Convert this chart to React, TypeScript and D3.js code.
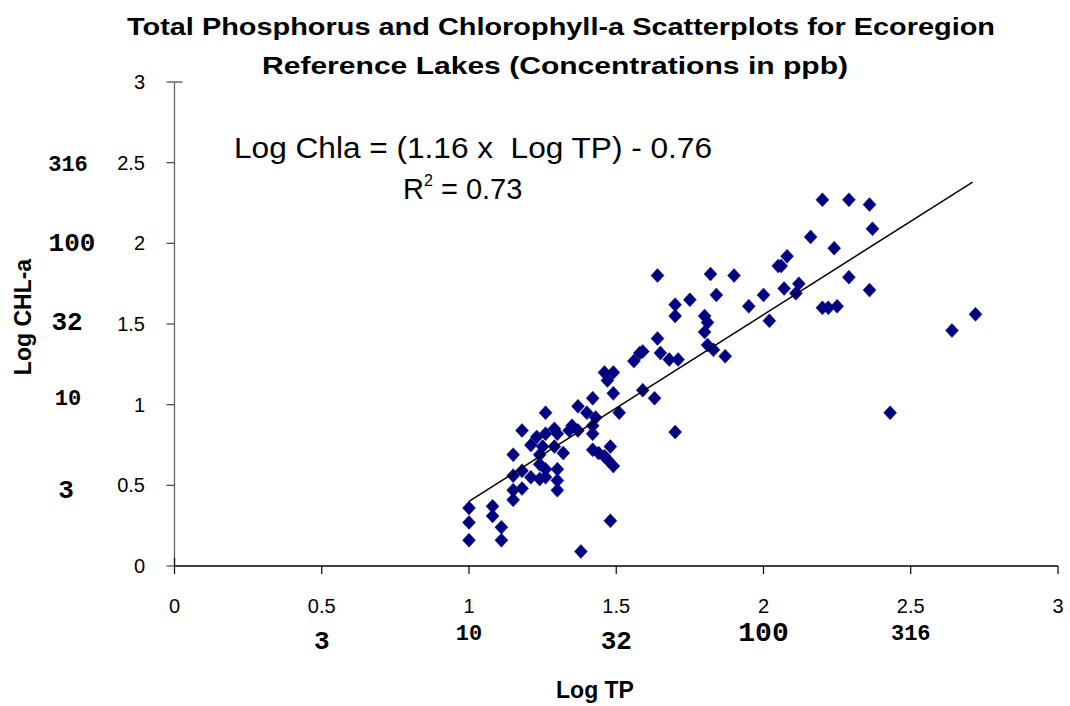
import React from "react";
import * as d3 from "d3";

// log TP / log Chl-a pairs
const logTP = [
  1.0, 1.0, 1.0, 1.08, 1.08, 1.11, 1.11, 1.15, 1.15, 1.15, 1.15, 1.18, 1.18, 1.18,
  1.21, 1.21, 1.23, 1.24, 1.24, 1.24, 1.25, 1.26, 1.26, 1.26, 1.26, 1.29, 1.29, 1.3,
  1.3, 1.3, 1.3, 1.32, 1.34, 1.35, 1.37, 1.37, 1.38, 1.4, 1.42, 1.42, 1.42, 1.43,
  1.42, 1.44, 1.46, 1.48, 1.47, 1.49, 1.46, 1.49, 1.47, 1.48, 1.49, 1.51, 1.56,
  1.59, 1.58, 1.59, 1.63, 1.64, 1.64, 1.65, 1.68, 1.71, 1.7, 1.7, 1.7, 1.75, 1.8,
  1.81, 1.8, 1.82, 1.81, 1.83, 1.84, 1.87, 1.9, 1.95, 2.0, 2.02, 2.05, 2.08, 2.07,
  2.06, 2.12, 2.11, 2.16, 2.2, 2.2, 2.22, 2.24, 2.25, 2.29, 2.29, 2.36, 2.37, 2.36,
  2.43, 2.64, 2.72,
];
const logChla = [
  0.36, 0.27, 0.16, 0.37, 0.31, 0.24, 0.16, 0.69, 0.56, 0.47, 0.41, 0.59, 0.48, 0.84,
  0.75, 0.55, 0.8, 0.63, 0.54, 0.69, 0.74, 0.95, 0.82, 0.6, 0.55, 0.74, 0.85, 0.82,
  0.6, 0.53, 0.47, 0.7, 0.84, 0.87, 0.84, 0.99, 0.09, 0.95, 1.04, 0.87, 0.82, 0.92,
  0.72, 0.7, 0.68, 0.74, 0.66, 0.62, 1.2, 1.2, 1.15, 0.28, 1.07, 0.95, 1.27,
  1.33, 1.32, 1.09, 1.04, 1.41, 1.8, 1.32, 1.28, 1.28, 1.62, 1.55, 0.83, 1.65, 1.55,
  1.51, 1.45, 1.81, 1.37, 1.34, 1.68, 1.3, 1.8, 1.61, 1.68, 1.52, 1.86, 1.92, 1.72,
  1.86, 1.75, 1.69, 2.04, 2.27, 1.6, 1.6, 1.97, 1.61, 2.27, 1.79, 2.24, 2.09, 1.71,
  0.95, 1.46, 1.56,
];

// regression line end points (Log Chla = 1.16 Log TP - 0.76)
const trendX = [1.0, 2.71];
const trendY = [0.4, 2.38];

const axisTicks = [0, 0.5, 1, 1.5, 2, 2.5, 3];
const concLabels = ["3", "10", "32", "100", "316"];
// where each ppb label sits on the log axes (hand placed in the original)
const concY = [0.47, 1.05, 1.51, 2.0, 2.5];
const concX = [0.5, 1.0, 1.5, 2.0, 2.5];

export default function App() {
  const x = d3.scaleLinear().domain([0, 3]).range([174.5, 1058]);
  const y = d3.scaleLinear().domain([0, 3]).range([566, 82]);
  const diamond = "M0,-7L6.5,0L0,7L-6.5,0Z";
  const line = d3.line<number>().x((d) => x(trendX[d])).y((d) => y(trendY[d]));

  const ySizes = [26, 22, 26, 26, 22];
  const yLeft = [66, 68, 67, 72, 68];
  const xSizes = [26, 22, 26, 28, 22];
  const xBase = [649, 640, 649, 641, 640];

  return (
    <svg width={1070} height={706} style={{ display: "block", position: "absolute", left: 0, top: 0 }}>
      <rect width={1070} height={706} fill="#fff" />
      <g fontFamily="Liberation Sans, Arial, sans-serif" fontWeight="bold" fontSize={23} textAnchor="middle">
        <text x={561} y={35} textLength={868} lengthAdjust="spacingAndGlyphs">
          Total Phosphorus and Chlorophyll-a Scatterplots for Ecoregion
        </text>
        <text x={555} y={74} textLength={586} lengthAdjust="spacingAndGlyphs">
          Reference Lakes (Concentrations in ppb)
        </text>
      </g>

      {/* axes */}
      <line x1={x(0)} x2={x(0)} y1={y(3)} y2={y(0)} stroke="#666" strokeWidth={1.3} />
      <line x1={x(0)} x2={x(3)} y1={y(0)} y2={y(0)} stroke="#000" strokeWidth={1.3} />
      {axisTicks.map((t) => (
        <g key={"yt" + t}>
          <line x1={x(0) - 8} x2={x(0) + (t === 3 ? 8 : 0)} y1={y(t)} y2={y(t)} stroke="#444" strokeWidth={1.2} />
          <text x={145} y={y(t) + 7} textAnchor="end" fontFamily="Liberation Sans, Arial, sans-serif" fontSize={20}>
            {t}
          </text>
        </g>
      ))}
      {axisTicks.map((t) => (
        <g key={"xt" + t}>
          <line x1={x(t)} x2={x(t)} y1={y(0) + 8} y2={y(0) - (t === 0 ? 8 : 0)} stroke="#000" strokeWidth={1.2} />
          <text x={x(t)} y={613} textAnchor="middle" fontFamily="Liberation Sans, Arial, sans-serif" fontSize={20}>
            {t}
          </text>
        </g>
      ))}

      {/* concentration labels */}
      <g fontFamily="Liberation Mono, Courier New, monospace" fontWeight="bold" textAnchor="middle">
        {concLabels.map((c, i) => (
          <text key={"cy" + c} x={yLeft[i]} y={y(concY[i]) + 8} fontSize={ySizes[i]}>
            {c}
          </text>
        ))}
        {concLabels.map((c, i) => (
          <text key={"cx" + c} x={x(concX[i])} y={xBase[i]} fontSize={xSizes[i]}>
            {c}
          </text>
        ))}
      </g>

      <text x={595} y={698} textAnchor="middle" fontFamily="Liberation Sans, Arial, sans-serif" fontWeight="bold" fontSize={23}>
        Log TP
      </text>
      <text
        transform="translate(31,317) rotate(-90)"
        textAnchor="middle"
        fontFamily="Liberation Sans, Arial, sans-serif"
        fontWeight="bold"
        fontSize={23}
      >
        Log CHL-a
      </text>

      {/* points */}
      {logTP.map((v, i) => (
        <path key={i} d={diamond} transform={`translate(${x(v)},${y(logChla[i])})`} fill="#000080" stroke="#10108a" strokeWidth={0.5} />
      ))}
      <path d={line([0, 1]) || ""} fill="none" stroke="#000" strokeWidth={1.5} />

      {/* equation */}
      <g fontFamily="Liberation Sans, Arial, sans-serif" fontSize={29}>
        <text x={234} y={158} textLength={478} lengthAdjust="spacingAndGlyphs" xmlSpace="preserve">
          Log Chla = (1.16 x  Log TP) - 0.76
        </text>
        <text x={403} y={199}>
          R<tspan fontSize={16} dy={-13}>2</tspan>
          <tspan dy={13}> = 0.73</tspan>
        </text>
      </g>
    </svg>
  );
}
